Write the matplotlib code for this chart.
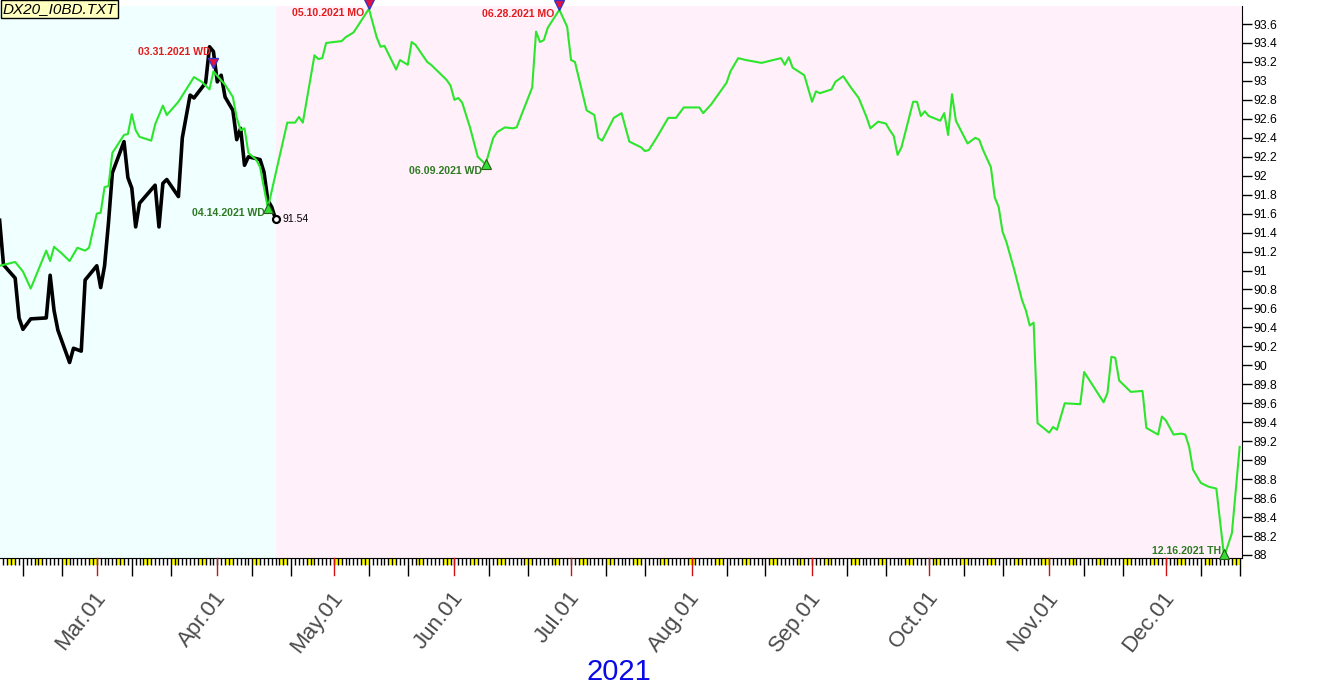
import matplotlib
matplotlib.use('Agg')
import matplotlib.pyplot as plt
import matplotlib.dates as mdates
import matplotlib.transforms as mtransforms
from matplotlib.patches import Rectangle
import numpy as np
import pandas as pd

plt.rcParams['font.family'] = ['Liberation Sans', 'DejaVu Sans']

# ---------------- data ----------------
green_dates = [
    '2021-02-04', '2021-02-08', '2021-02-10', '2021-02-12', '2021-02-16', '2021-02-17', '2021-02-18',
    '2021-02-20', '2021-02-22', '2021-02-24', '2021-02-26', '2021-02-27', '2021-03-01', '2021-03-02',
    '2021-03-03', '2021-03-04', '2021-03-05', '2021-03-08', '2021-03-09', '2021-03-10', '2021-03-11',
    '2021-03-12', '2021-03-15', '2021-03-16', '2021-03-18', '2021-03-19', '2021-03-22', '2021-03-26',
    '2021-03-28', '2021-03-30', '2021-03-31', '2021-04-03', '2021-04-05', '2021-04-06', '2021-04-07',
    '2021-04-08', '2021-04-09', '2021-04-11', '2021-04-12', '2021-04-14', '2021-04-19', '2021-04-21',
    '2021-04-22', '2021-04-23', '2021-04-26', '2021-04-27', '2021-04-28', '2021-04-29', '2021-05-01',
    '2021-05-03', '2021-05-04', '2021-05-06', '2021-05-07', '2021-05-10', '2021-05-12', '2021-05-13',
    '2021-05-14', '2021-05-17', '2021-05-18', '2021-05-20', '2021-05-21', '2021-05-22', '2021-05-25',
    '2021-05-26', '2021-05-30', '2021-05-31', '2021-06-01', '2021-06-02', '2021-06-03', '2021-06-05',
    '2021-06-07', '2021-06-09', '2021-06-11', '2021-06-12', '2021-06-14', '2021-06-16', '2021-06-17',
    '2021-06-21', '2021-06-22', '2021-06-23', '2021-06-24', '2021-06-25', '2021-06-28', '2021-06-30',
    '2021-07-01', '2021-07-02', '2021-07-05', '2021-07-07', '2021-07-08', '2021-07-09', '2021-07-12',
    '2021-07-14', '2021-07-16', '2021-07-19', '2021-07-20', '2021-07-21', '2021-07-23', '2021-07-26',
    '2021-07-28', '2021-07-30', '2021-08-03', '2021-08-04', '2021-08-06', '2021-08-10', '2021-08-11',
    '2021-08-13', '2021-08-15', '2021-08-19', '2021-08-20', '2021-08-23', '2021-08-24', '2021-08-25',
    '2021-08-26', '2021-08-27', '2021-08-30', '2021-09-01', '2021-09-02', '2021-09-03', '2021-09-06',
    '2021-09-07', '2021-09-09', '2021-09-11', '2021-09-13', '2021-09-15', '2021-09-16', '2021-09-18',
    '2021-09-20', '2021-09-21', '2021-09-22', '2021-09-23', '2021-09-24', '2021-09-27', '2021-09-28',
    '2021-09-29', '2021-09-30', '2021-10-01', '2021-10-04', '2021-10-05', '2021-10-06', '2021-10-07',
    '2021-10-08', '2021-10-11', '2021-10-13', '2021-10-14', '2021-10-15', '2021-10-17', '2021-10-18',
    '2021-10-19', '2021-10-20', '2021-10-21', '2021-10-23', '2021-10-25', '2021-10-26', '2021-10-27',
    '2021-10-28', '2021-10-29', '2021-11-01', '2021-11-02', '2021-11-03', '2021-11-05', '2021-11-09',
    '2021-11-10', '2021-11-15', '2021-11-16', '2021-11-17', '2021-11-18', '2021-11-19', '2021-11-22',
    '2021-11-25', '2021-11-26', '2021-11-29', '2021-11-30', '2021-12-01', '2021-12-03', '2021-12-05',
    '2021-12-06', '2021-12-07', '2021-12-08', '2021-12-10', '2021-12-12', '2021-12-14', '2021-12-16',
    '2021-12-18', '2021-12-20',
]
green_vals = [
    91.05, 91.09, 90.99, 90.81, 91.21, 91.10, 91.25,
    91.18, 91.10, 91.24, 91.21, 91.24, 91.60, 91.61,
    91.88, 91.89, 92.24, 92.43, 92.44, 92.65, 92.48,
    92.41, 92.37, 92.54, 92.74, 92.64, 92.78, 93.04,
    92.99, 92.91, 93.10, 92.96, 92.83, 92.61, 92.48,
    92.50, 92.24, 92.17, 92.09, 91.66, 92.56, 92.56,
    92.62, 92.56, 93.27, 93.23, 93.24, 93.40, 93.41,
    93.42, 93.46, 93.51, 93.57, 93.76, 93.46, 93.36,
    93.37, 93.12, 93.22, 93.17, 93.41, 93.38, 93.20,
    93.17, 93.01, 92.95, 92.80, 92.82, 92.77, 92.51,
    92.20, 92.12, 92.40, 92.46, 92.51, 92.50, 92.51,
    92.93, 93.52, 93.41, 93.43, 93.56, 93.75, 93.57,
    93.22, 93.20, 92.69, 92.64, 92.40, 92.37, 92.61,
    92.66, 92.36, 92.30, 92.26, 92.27, 92.40, 92.61,
    92.61, 92.72, 92.72, 92.66, 92.75, 92.98, 93.10,
    93.24, 93.22, 93.19, 93.20, 93.23, 93.24, 93.17,
    93.25, 93.14, 93.06, 92.78, 92.89, 92.87, 92.91,
    92.99, 93.05, 92.93, 92.82, 92.62, 92.50, 92.57,
    92.55, 92.48, 92.42, 92.22, 92.30, 92.78, 92.78,
    92.63, 92.68, 92.63, 92.58, 92.66, 92.43, 92.86,
    92.58, 92.34, 92.40, 92.38, 92.27, 92.09, 91.77,
    91.67, 91.41, 91.30, 91.01, 90.69, 90.58, 90.42,
    90.45, 89.39, 89.29, 89.35, 89.32, 89.60, 89.59,
    89.93, 89.61, 89.71, 90.09, 90.08, 89.84, 89.72,
    89.73, 89.34, 89.27, 89.46, 89.42, 89.27, 89.28,
    89.27, 89.14, 88.90, 88.76, 88.72, 88.70, 87.98,
    88.23, 89.14,
]

black_dates = [
    '2021-02-04', '2021-02-05', '2021-02-08', '2021-02-09', '2021-02-10', '2021-02-12', '2021-02-16',
    '2021-02-17', '2021-02-18', '2021-02-19', '2021-02-22', '2021-02-23', '2021-02-25', '2021-02-26',
    '2021-03-01', '2021-03-02', '2021-03-03', '2021-03-04', '2021-03-05', '2021-03-08', '2021-03-09',
    '2021-03-10', '2021-03-11', '2021-03-12', '2021-03-16', '2021-03-17', '2021-03-18', '2021-03-19',
    '2021-03-22', '2021-03-23', '2021-03-25', '2021-03-26', '2021-03-29', '2021-03-30', '2021-03-31',
    '2021-04-01', '2021-04-02', '2021-04-03', '2021-04-05', '2021-04-06', '2021-04-07', '2021-04-08',
    '2021-04-09', '2021-04-12', '2021-04-13', '2021-04-14', '2021-04-15', '2021-04-16',
]
black_vals = [
    91.53, 91.06, 90.92, 90.50, 90.38, 90.49, 90.50,
    90.95, 90.58, 90.37, 90.03, 90.18, 90.15, 90.90,
    91.05, 90.82, 91.05, 91.50, 92.03, 92.36, 91.98,
    91.87, 91.46, 91.71, 91.90, 91.46, 91.92, 91.96,
    91.78, 92.40, 92.85, 92.82, 92.98, 93.36, 93.31,
    92.99, 93.06, 92.83, 92.69, 92.38, 92.50, 92.11,
    92.20, 92.17, 92.04, 91.74, 91.67, 91.54,
]

sig_dates = ['2021-03-31', '2021-04-14', '2021-05-10', '2021-06-09', '2021-06-28', '2021-12-16']
sig_vals = [93.19, 91.66, 93.76, 92.12, 93.75, 87.98]
sig_labels = ['03.31.2021 WD', '04.14.2021 WD', '05.10.2021 MO',
              '06.09.2021 WD', '06.28.2021 MO', '12.16.2021 TH']
sig_kind = ['high', 'low', 'high', 'low', 'high', 'low']

month_dates = ['2021-03-01', '2021-04-01', '2021-05-01', '2021-06-01', '2021-07-01',
               '2021-08-01', '2021-09-01', '2021-10-01', '2021-11-01', '2021-12-01']
month_labels = ['Mar.01', 'Apr.01', 'May.01', 'Jun.01', 'Jul.01',
                'Aug.01', 'Sep.01', 'Oct.01', 'Nov.01', 'Dec.01']
zone_split = '2021-04-16'
y_ticks = [round(88 + 0.2 * i, 1) for i in range(29)]

# ---------------- figure ----------------
W, H = 1319, 689
fig = plt.figure(figsize=(W / 100, H / 100), dpi=100)
ax_h_px = 552
ax = fig.add_axes([0, 131 / H, 1242 / W, ax_h_px / H])

num = lambda s: mdates.date2num(pd.Timestamp(s))
base = num('2021-03-01')
x0 = base - 24.9
x1 = base + 294.6
ax.set_xlim(x0, x1)
ax.set_ylim(87.968, 93.79)
ax.xaxis_date()

split = num(zone_split)
ax.axvspan(x0, split, color='#F0FFFF', zorder=0, lw=0)
ax.axvspan(split, x1, color='#FFF0FA', zorder=0, lw=0)

gd = [num(d) for d in green_dates]
bd = [num(d) for d in black_dates]
ax.plot(bd, black_vals, color='black', lw=2.6, zorder=3)
ax.plot(gd, green_vals, color='#2CE62C', lw=1.5, zorder=4)

# end-of-black marker and value
ax.plot(bd[-1], black_vals[-1], 'o', mfc='white', mec='black', ms=5, mew=1.6, zorder=6, clip_on=False)
ax.annotate(f'{black_vals[-1]:.2f}', xy=(bd[-1], black_vals[-1]), xytext=(7, 0),
            textcoords='offset pixels', ha='left', va='center', fontsize=7.5, color='black', zorder=7)

# signal markers and labels
marker_dy = [0, 0, 5, 0, 5, 3]
label_off = [(-3, 11), (-3, -5), (-5, -4.5), (-4, -7), (-5, -4.5), (-3, 6)]
for d, v, lbl, kind, mdy, (ox, oy) in zip(sig_dates, sig_vals, sig_labels, sig_kind, marker_dy, label_off):
    dt = num(d)
    tr = mtransforms.offset_copy(ax.transData, fig=fig, x=0, y=mdy, units='dots')
    if kind == 'high':
        ax.plot([dt], [v], marker='v', ms=7, mfc='#E8103A', mec='#3434C8', mew=1.0,
                transform=tr, zorder=8, clip_on=False)
        col = '#E31C1C'
    else:
        ax.plot([dt], [v], marker='^', ms=7, mfc='#33DD33', mec='#2A5A1A', mew=0.8,
                transform=tr, zorder=8, clip_on=False)
        col = '#2E7A22'
    ax.annotate(lbl, xy=(dt, v), xytext=(ox, oy), textcoords='offset pixels',
                ha='right', va='center', fontsize=7.6, fontweight='bold', color=col, zorder=9)

# axes styling
for s in ['top', 'left']:
    ax.spines[s].set_visible(False)
ax.spines['right'].set_color('black')
ax.spines['bottom'].set_color('black')
ax.yaxis.tick_right()
ax.set_yticks(y_ticks)
ax.set_yticklabels([f'{t:g}' for t in y_ticks])
ax.tick_params(axis='y', direction='out', length=7, width=1, labelsize=8.7, pad=1, colors='black')

ax.xaxis.set_minor_locator(mdates.DayLocator())
ax.xaxis.set_major_locator(mdates.DayLocator(bymonthday=[10, 20]))
ax.tick_params(axis='x', which='major', direction='out', length=13, width=1, colors='black', labelbottom=False)
ax.tick_params(axis='x', which='minor', direction='out', length=5, width=1, colors='black')

xt = ax.get_xaxis_transform()
# weekend boxes
day = pd.Timestamp('2021-02-06')
while mdates.date2num(day) < x1:
    ax.add_patch(Rectangle((mdates.date2num(day), -6.5 / ax_h_px), 2.0, 6.0 / ax_h_px,
                           transform=xt, facecolor='#FFFF00', edgecolor='none',
                           clip_on=False, zorder=1))
    day += pd.Timedelta(days=7)

# month ticks and labels
for md, ml in zip(month_dates, month_labels):
    dt = num(md)
    ax.plot([dt, dt], [0, -17 / ax_h_px], transform=xt, color='#CC1111', lw=1, clip_on=False, zorder=5)
    ax.annotate(ml, xy=(dt, 0), xycoords=xt, xytext=(5, -36), textcoords='offset pixels',
                rotation=52, ha='right', va='center', rotation_mode='anchor',
                fontsize=16, color='#4A4A4A')

fig.text(619 / W, 1 - 672.5 / H, '2021', ha='center', va='center', fontsize=21, color='#0A0AE6')
fig.text(3 / W, 1 - 9 / H, 'DX20_I0BD.TXT', ha='left', va='center', fontsize=11, style='italic',
         color='black', bbox=dict(boxstyle='square,pad=0.12', fc='#FFFFC0', ec='black', lw=1))

fig.savefig('out.png', dpi=100)
